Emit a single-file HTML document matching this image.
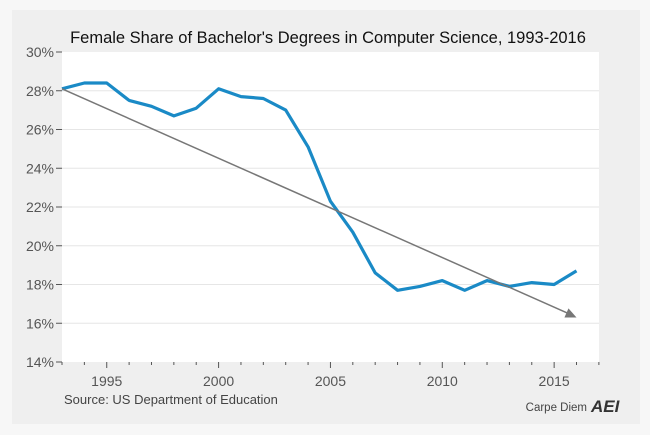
<!DOCTYPE html>
<html><head><meta charset="utf-8"><style>
body{margin:0;background:#f7f7f7;width:650px;height:430px;overflow:hidden;font-family:"Liberation Sans",sans-serif}
</style></head><body>
<svg width="650" height="430">
<rect x="12" y="10" width="628" height="414" fill="#efefef"/>
<rect x="62" y="52" width="537" height="310" fill="#fff"/>
<text x="328" y="43" text-anchor="middle" font-size="16.5" fill="#111">Female Share of Bachelor's Degrees in Computer Science, 1993-2016</text>
<g id="grid"></g><g id="axes"></g><g id="series"></g>
<text x="64" y="404" font-size="13" fill="#444">Source: US Department of Education</text>
<text x="587" y="411" font-size="11.5" fill="#444" text-anchor="end">Carpe Diem</text>
<text x="591" y="412" font-size="17" font-weight="bold" font-style="italic" fill="#333">AEI</text>
</svg>
<script>
const years=[1993,1994,1995,1996,1997,1998,1999,2000,2001,2002,2003,2004,2005,2006,2007,2008,2009,2010,2011,2012,2013,2014,2015,2016];
const shares=[28.1,28.4,28.4,27.5,27.2,26.7,27.1,28.1,27.7,27.6,27.0,25.1,22.3,20.7,18.6,17.7,17.9,18.2,17.7,18.2,17.9,18.1,18.0,18.7];
const yTicks=[14,16,18,20,22,24,26,28,30];
const xLabels=[1995,2000,2005,2010,2015];
const trendStart=[1993,28.1];
const trendEnd=[2016,16.3];
const NS="http://www.w3.org/2000/svg";
const x=v=>62+(v-1993)*22.37;
const y=v=>362-(v-14)*19.375;
function mk(t,a,p){const e=document.createElementNS(NS,t);for(const k in a)e.setAttribute(k,a[k]);document.getElementById(p).appendChild(e);return e;}
yTicks.forEach(t=>{
  if(t>14&&t<30){const g=mk('line',{x1:62,x2:599,y1:y(t),y2:y(t),stroke:'#e6e6e6','stroke-width':1},'grid');
  
  }
  const tk=mk('line',{x1:56,x2:62,y1:y(t),y2:y(t),stroke:'#555'},'axes');
  
  
  const l=mk('text',{x:54,y:y(t)+5,'text-anchor':'end','font-size':14,fill:'#555'},'axes');l.textContent=t+'%';
  
  
});
for(let yr=1993;yr<=2017;yr++){
  const big=xLabels.includes(yr);
  const tk=mk('line',{x1:x(yr),x2:x(yr),y1:362,y2:big?368:365,stroke:'#555'},'axes');
  
  
}
xLabels.forEach(yr=>{const l=mk('text',{x:x(yr),y:386,'text-anchor':'middle','font-size':14,fill:'#555'},'axes');l.textContent=yr;
  
  });
const d=years.map((yr,i)=>(i?'L':'M')+x(yr).toFixed(1)+','+y(shares[i]).toFixed(1)).join('');
const p=mk('path',{d:d,fill:'none',stroke:'#1a8ac6','stroke-width':3.2,'stroke-linejoin':'round'},'series');


const x1=x(trendStart[0]),y1=y(trendStart[1]),x2=x(trendEnd[0]),y2=y(trendEnd[1]);
const tl=mk('line',{x1:x1,y1:y1,x2:x2-6,y2:y2-3,stroke:'#777','stroke-width':1.5},'series');


const ang=Math.atan2(y2-y1,x2-x1);
const ah=[[x2,y2],[x2-11*Math.cos(ang)+5*Math.sin(ang),y2-11*Math.sin(ang)-5*Math.cos(ang)],[x2-11*Math.cos(ang)-5*Math.sin(ang),y2-11*Math.sin(ang)+5*Math.cos(ang)]];
const hd=mk('polygon',{points:ah.map(q=>q.join(',')).join(' '),fill:'#777'},'series');


</script>
</body></html>
